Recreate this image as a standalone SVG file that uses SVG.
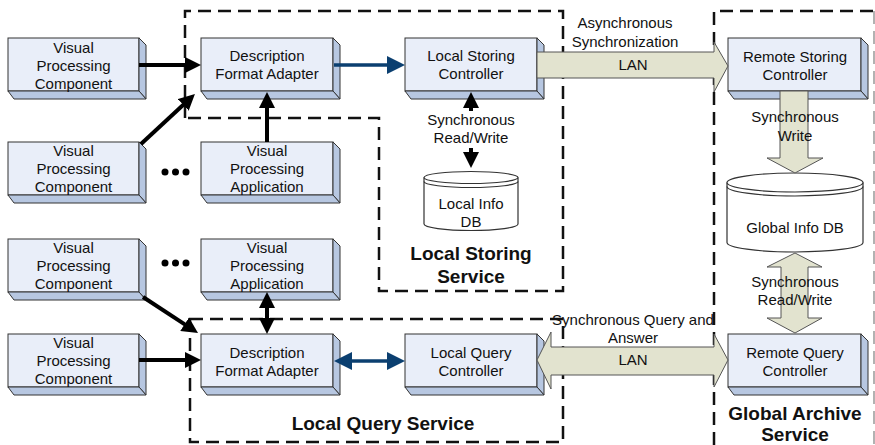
<svg xmlns="http://www.w3.org/2000/svg" width="875" height="445" viewBox="0 0 875 445">
<style>
text{font-family:"Liberation Sans",Arial,sans-serif;font-size:15px;fill:#111;text-anchor:middle}
.b{font-weight:bold;font-size:19px}
.front{fill:#e9eef9;stroke:#333;stroke-width:1}
.side{fill:#b7c7e1;stroke:#333;stroke-width:1;stroke-linejoin:round}
.dash{fill:none;stroke:#111;stroke-width:2.5;stroke-dasharray:13 7}
.blk{stroke:#000;stroke-width:4;fill:none}
.blu{stroke:#0b3f70;stroke-width:3.5;fill:none}
.big{fill:#e2e3cf;stroke:#555;stroke-width:1}
.db{fill:#fff;stroke:#333;stroke-width:1.2}
</style>
<defs>
<marker id="ab" markerUnits="userSpaceOnUse" markerWidth="16" markerHeight="16" refX="2" refY="8" orient="auto-start-reverse"><path d="M0 0 L16 8 L0 16 Z" fill="#000"/></marker>
<marker id="au" markerUnits="userSpaceOnUse" markerWidth="18" markerHeight="18" refX="2" refY="9" orient="auto-start-reverse"><path d="M0 0 L18 9 L0 18 Z" fill="#0b3f70"/></marker>
</defs>

<g id="containers">
<path class="dash" d="M185 118 V11 H563 V291 H379 V118 Z"/>
<rect class="dash" x="190" y="319" width="373" height="123"/>
<path class="dash" d="M714 445 V11 H875"/>
<line x1="874" y1="11" x2="874" y2="445" stroke="#999" stroke-width="1.5" stroke-dasharray="13 7"/>
<text class="b" x="471" y="260">Local Storing</text>
<text class="b" x="471" y="283">Service</text>
<text class="b" x="383" y="430">Local Query Service</text>
<text class="b" x="795" y="420">Global Archive</text>
<text class="b" x="795" y="441">Service</text>
</g>

<g id="vpc1"><rect class="front" x="8" y="38" width="131" height="53"/><path class="side" d="M139 38 l7 7 v54 l-7 -8 Z"/><path class="side" d="M8 91 l6 8 H146 l-7 -8 Z"/><text x="73.5" y="52.5">Visual</text><text x="73.5" y="70.5">Processing</text><text x="73.5" y="88.5">Component</text></g>
<g id="vpc2"><rect class="front" x="8" y="142" width="131" height="53"/><path class="side" d="M139 142 l7 7 v54 l-7 -8 Z"/><path class="side" d="M8 195 l6 8 H146 l-7 -8 Z"/><text x="73.5" y="155.5">Visual</text><text x="73.5" y="173.5">Processing</text><text x="73.5" y="191.5">Component</text></g>
<g id="vpc3"><rect class="front" x="8" y="239" width="131" height="53"/><path class="side" d="M139 239 l7 7 v54 l-7 -8 Z"/><path class="side" d="M8 292 l6 8 H146 l-7 -8 Z"/><text x="73.5" y="252.5">Visual</text><text x="73.5" y="270.5">Processing</text><text x="73.5" y="288.5">Component</text></g>
<g id="vpc4"><rect class="front" x="8" y="334" width="131" height="53"/><path class="side" d="M139 334 l7 7 v54 l-7 -8 Z"/><path class="side" d="M8 387 l6 8 H146 l-7 -8 Z"/><text x="73.5" y="347.5">Visual</text><text x="73.5" y="365.5">Processing</text><text x="73.5" y="383.5">Component</text></g>
<g id="dfa1"><rect class="front" x="201" y="38" width="132" height="53"/><path class="side" d="M333 38 l7 7 v54 l-7 -8 Z"/><path class="side" d="M201 91 l6 8 H340 l-7 -8 Z"/><text x="267" y="60.5">Description</text><text x="267" y="78.5">Format Adapter</text></g>
<g id="vpa1"><rect class="front" x="201" y="142" width="132" height="53"/><path class="side" d="M333 142 l7 7 v54 l-7 -8 Z"/><path class="side" d="M201 195 l6 8 H340 l-7 -8 Z"/><text x="267" y="155.5">Visual</text><text x="267" y="173.5">Processing</text><text x="267" y="191.5">Application</text></g>
<g id="vpa2"><rect class="front" x="201" y="239" width="132" height="53"/><path class="side" d="M333 239 l7 7 v54 l-7 -8 Z"/><path class="side" d="M201 292 l6 8 H340 l-7 -8 Z"/><text x="267" y="252.5">Visual</text><text x="267" y="270.5">Processing</text><text x="267" y="288.5">Application</text></g>
<g id="dfa2"><rect class="front" x="201" y="334" width="132" height="53"/><path class="side" d="M333 334 l7 7 v54 l-7 -8 Z"/><path class="side" d="M201 387 l6 8 H340 l-7 -8 Z"/><text x="267" y="357.5">Description</text><text x="267" y="375.5">Format Adapter</text></g>
<g id="lsc"><rect class="front" x="405" y="38" width="132" height="53"/><path class="side" d="M537 38 l7 7 v54 l-7 -8 Z"/><path class="side" d="M405 91 l6 8 H544 l-7 -8 Z"/><text x="471" y="60.5">Local Storing</text><text x="471" y="78.5">Controller</text></g>
<g id="lqc"><rect class="front" x="405" y="334" width="132" height="53"/><path class="side" d="M537 334 l7 7 v54 l-7 -8 Z"/><path class="side" d="M405 387 l6 8 H544 l-7 -8 Z"/><text x="471" y="357.5">Local Query</text><text x="471" y="375.5">Controller</text></g>
<g id="rsc"><rect class="front" x="728" y="38" width="133" height="53"/><path class="side" d="M861 38 l7 7 v54 l-7 -8 Z"/><path class="side" d="M728 91 l6 8 H868 l-7 -8 Z"/><text x="795" y="61.5">Remote Storing</text><text x="795" y="79.5">Controller</text></g>
<g id="rqc"><rect class="front" x="728" y="334" width="133" height="53"/><path class="side" d="M861 334 l7 7 v54 l-7 -8 Z"/><path class="side" d="M728 387 l6 8 H868 l-7 -8 Z"/><text x="795" y="357.5">Remote Query</text><text x="795" y="375.5">Controller</text></g>

<g id="localdb">
<path class="db" d="M424 177.5 V224 A47 6.5 0 0 0 518 224 V177.5"/>
<ellipse class="db" cx="471" cy="177.5" rx="47" ry="6"/>
<path class="db" fill="none" d="M424 181.5 A47 6 0 0 0 518 181.5" style="fill:none"/>
<text x="471" y="208.5">Local Info</text><text x="471" y="226.5">DB</text>
</g>
<g id="globaldb">
<path class="db" d="M727 182.5 V242.5 A68 9.5 0 0 0 863 242.5 V182.5"/>
<ellipse class="db" cx="795" cy="182.5" rx="68" ry="9.5"/>
<path class="db" d="M727 186.5 A68 9.5 0 0 0 863 186.5" style="fill:none"/>
<text x="795" y="232.5">Global Info DB</text>
</g>

<g id="dots" fill="#000">
<circle cx="165" cy="172" r="3.5"/><circle cx="175.5" cy="172" r="3.5"/><circle cx="186" cy="172" r="3.5"/>
<circle cx="165" cy="263" r="3.5"/><circle cx="175.5" cy="263" r="3.5"/><circle cx="186" cy="263" r="3.5"/>
</g>

<g id="connectors">
<line class="blk" x1="139" y1="65" x2="187" y2="65" marker-end="url(#ab)"/>
<line class="blk" x1="141" y1="144" x2="184.7" y2="103.5" marker-end="url(#ab)"/>
<line class="blk" x1="267" y1="142" x2="267" y2="106" marker-end="url(#ab)"/>
<line class="blk" x1="143" y1="297" x2="186.3" y2="325.3" marker-end="url(#ab)"/>
<line class="blk" x1="139" y1="360" x2="187" y2="360" marker-end="url(#ab)"/>
<line class="blk" x1="267" y1="306" x2="267" y2="320" marker-start="url(#ab)" marker-end="url(#ab)"/>
<line class="blk" x1="471" y1="111" x2="471" y2="106" marker-end="url(#ab)"/>
<line class="blk" x1="471" y1="148" x2="471" y2="154" marker-end="url(#ab)"/>
<line class="blu" x1="334" y1="65" x2="389" y2="65" marker-end="url(#au)"/>
<line class="blu" x1="350" y1="361" x2="389" y2="361" marker-start="url(#au)" marker-end="url(#au)"/>
<path class="big" d="M537 52 H714 V42 L728 66 L714 92 V78 H537 Z"/>
<path class="big" d="M780 91 V158 H767 L795 173 L823 158 H808 V91 Z"/>
<path class="big" d="M795 253 L822 267 H808 V318 H822 L795 333 L767 318 H781 V267 H767 Z"/>
<path class="big" d="M537 360 L551 332 V347 H714 V334 L728 360 L714 387 V375 H551 V389 Z"/>
<text x="471" y="125">Synchronous</text><text x="471" y="143">Read/Write</text>
<text x="625" y="28">Asynchronous</text><text x="625" y="47">Synchronization</text>
<text x="633" y="70">LAN</text>
<text x="795" y="122">Synchronous</text><text x="795" y="141">Write</text>
<text x="795" y="287">Synchronous</text><text x="795" y="305">Read/Write</text>
<text x="633" y="325">Synchronous Query and</text><text x="633" y="343">Answer</text>
<text x="633" y="365">LAN</text>
</g>
</svg>
